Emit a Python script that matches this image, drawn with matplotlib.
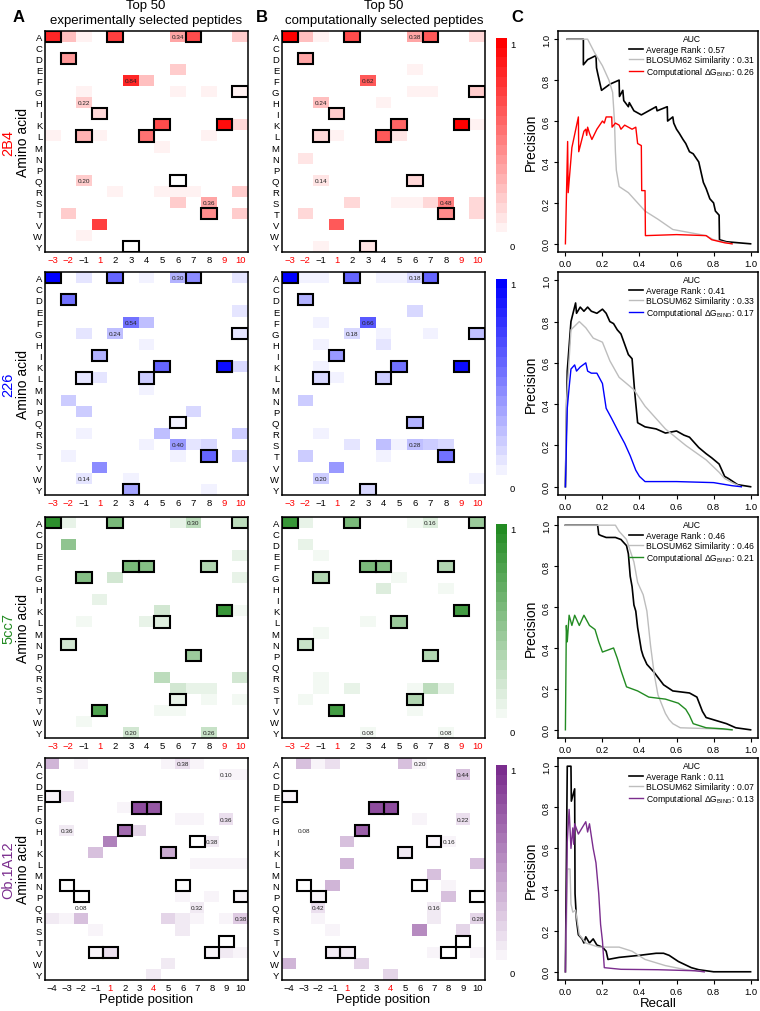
import matplotlib
matplotlib.use('Agg')
import matplotlib.pyplot as plt
import numpy as np
from matplotlib.colors import LinearSegmentedColormap
from matplotlib.patches import Rectangle

plt.rcParams['font.family'] = ['Liberation Sans', 'DejaVu Sans']
plt.rcParams['mathtext.fontset'] = 'custom'
plt.rcParams['mathtext.rm'] = 'Liberation Sans'

AMINO = list('ACDEFGHIKLMNPQRSTVWY')
POS_13 = [-3, -2, -1, 1, 2, 3, 4, 5, 6, 7, 8, 9, 10]
POS_14 = [-4, -3, -2, -1, 1, 2, 3, 4, 5, 6, 7, 8, 9, 10]

tcr_names = ['2B4', '226', '5cc7', 'Ob.1A12']
tcr_colors = ['#ff0000', '#0000ff', '#228b22', '#7b2d8e']
tcr_positions = [POS_13, POS_13, POS_13, POS_14]
red_ticks = [[-3, -2, 1, 9, 10], [-3, -2, 1, 9, 10], [-3, -2, 1, 9, 10], [1, 4]]

# native peptide residues (boxed cells)
boxes_mcc = [('A', -3), ('A', 2), ('A', 7), ('D', -2), ('G', 10), ('I', 1), ('K', 5),
             ('K', 9), ('L', -1), ('L', 4), ('Q', 6), ('T', 8), ('Y', 3)]
boxes_5cc7 = [('A', -3), ('A', 2), ('A', 10), ('F', 3), ('F', 4), ('F', 8), ('G', -1),
              ('K', 9), ('L', 5), ('N', -2), ('P', 7), ('T', 6), ('V', 1)]
boxes_ob = [('E', -4), ('F', 3), ('F', 4), ('H', 2), ('I', 7), ('K', 5), ('N', -3),
            ('N', 6), ('P', -2), ('P', 10), ('T', 9), ('V', -1), ('V', 1), ('V', 8)]

# amino-acid frequencies per position (experimental / computational)
exp_2b4 = {
    'A': {-3: 0.85, -2: 0.25, -1: 0.05, 2: 0.75, 3: 0.04, 6: 0.34, 7: 0.7, 10: 0.2},
    'D': {-2: 0.4}, 'E': {4: 0.03, 6: 0.2, 10: 0.03}, 'F': {3: 0.84, 4: 0.25},
    'G': {-1: 0.08, 6: 0.05, 8: 0.05, 10: 0.05}, 'H': {-1: 0.22}, 'I': {1: 0.15, -1: 0.03},
    'K': {5: 0.7, 9: 0.95, 10: 0.15},
    'L': {-3: 0.05, -1: 0.3, 1: 0.08, 3: 0.03, 4: 0.55, 8: 0.07},
    'M': {4: 0.03, 5: 0.06}, 'N': {-2: 0.04}, 'P': {-1: 0.04},
    'Q': {-1: 0.2, 6: 0.02, 8: 0.03}, 'R': {2: 0.08, 5: 0.05, 6: 0.05, 7: 0.08, 10: 0.2},
    'S': {2: 0.03, 6: 0.2, 8: 0.36}, 'T': {-2: 0.2, 8: 0.45, 10: 0.2},
    'V': {1: 0.75, 10: 0.03}, 'W': {-1: 0.08}, 'Y': {3: 0.0},
}
comp_2b4 = {
    'A': {-3: 1.0, -2: 0.25, -1: 0.06, 2: 0.7, 3: 0.04, 6: 0.38, 7: 0.65, 10: 0.15},
    'C': {4: 0.04}, 'D': {-2: 0.35}, 'E': {4: 0.04, 6: 0.05}, 'F': {3: 0.62},
    'G': {3: 0.04, 6: 0.05, 7: 0.08, 10: 0.2}, 'H': {-1: 0.24, 4: 0.06}, 'I': {1: 0.2},
    'K': {5: 0.6, 9: 1.0, 10: 0.06}, 'L': {-1: 0.15, 1: 0.08, 4: 0.65, 5: 0.1},
    'M': {5: 0.04}, 'N': {-2: 0.1}, 'Q': {-1: 0.14, 6: 0.15}, 'R': {-1: 0.04, 4: 0.04},
    'S': {2: 0.15, 4: 0.04, 5: 0.06, 6: 0.08, 7: 0.15, 8: 0.48, 10: 0.15},
    'T': {-2: 0.15, 8: 0.45, 10: 0.15}, 'V': {1: 0.65}, 'W': {-1: 0.04},
    'Y': {-1: 0.05, 3: 0.12},
}
exp_226 = {
    'A': {-3: 1.0, -2: 0.04, -1: 0.1, 2: 0.6, 4: 0.06, 6: 0.3, 7: 0.45, 10: 0.1},
    'C': {6: 0.03, 7: 0.03}, 'D': {-2: 0.55, -1: 0.03}, 'E': {6: 0.02, 10: 0.1},
    'F': {-1: 0.02, 3: 0.54, 4: 0.25}, 'G': {-1: 0.1, 2: 0.24, 7: 0.03, 8: 0.03, 10: 0.12},
    'H': {-1: 0.03, 4: 0.05}, 'I': {1: 0.3}, 'K': {-1: 0.03, 5: 0.6, 9: 0.95, 10: 0.15},
    'L': {-1: 0.1, 1: 0.1, 4: 0.2}, 'M': {4: 0.06}, 'N': {-2: 0.2, 8: 0.02},
    'P': {-1: 0.2, 7: 0.15}, 'Q': {4: 0.02, 5: 0.03, 6: 0.05}, 'R': {-1: 0.08, 5: 0.25, 10: 0.2},
    'S': {3: 0.03, 4: 0.06, 6: 0.4, 7: 0.1, 8: 0.15}, 'T': {-2: 0.06, 6: 0.08, 8: 0.6, 10: 0.15},
    'V': {1: 0.45, 4: 0.04, 6: 0.03, 7: 0.03}, 'W': {-1: 0.14, 3: 0.08}, 'Y': {3: 0.35, 8: 0.08},
}
comp_226 = {
    'A': {-3: 1.0, -2: 0.06, -1: 0.06, 2: 0.6, 4: 0.08, 5: 0.08, 6: 0.18, 7: 0.6},
    'C': {5: 0.03}, 'D': {-2: 0.3}, 'E': {6: 0.15, 10: 0.04}, 'F': {-1: 0.08, 3: 0.66},
    'G': {2: 0.18, 4: 0.06, 5: 0.04, 7: 0.06, 10: 0.25}, 'H': {-1: 0.06, 3: 0.03, 4: 0.1},
    'I': {1: 0.4}, 'K': {-1: 0.06, 5: 0.55, 9: 0.95}, 'L': {-1: 0.15, 1: 0.05, 4: 0.2, 5: 0.04},
    'M': {10: 0.03}, 'N': {-2: 0.2}, 'Q': {5: 0.03, 6: 0.3}, 'R': {-1: 0.08},
    'S': {2: 0.1, 4: 0.25, 5: 0.06, 6: 0.28, 7: 0.2, 8: 0.15}, 'T': {-2: 0.2, 4: 0.06, 8: 0.55},
    'V': {1: 0.4}, 'W': {-1: 0.2, 10: 0.08}, 'Y': {3: 0.15},
}
exp_5cc7 = {
    'A': {-3: 0.95, -2: 0.1, 2: 0.6, 5: 0.03, 6: 0.1, 7: 0.3, 10: 0.3},
    'D': {-2: 0.5}, 'E': {6: 0.03, 10: 0.1}, 'F': {3: 0.6, 4: 0.55, 8: 0.35},
    'G': {-1: 0.55, 2: 0.2, 6: 0.02, 10: 0.1}, 'H': {5: 0.02}, 'I': {1: 0.1},
    'K': {5: 0.2, 9: 0.9, 10: 0.06}, 'L': {-1: 0.05, 1: 0.04, 4: 0.1, 5: 0.15, 6: 0.03},
    'M': {4: 0.02}, 'N': {-2: 0.2}, 'P': {4: 0.02, 7: 0.45}, 'Q': {-1: 0.03, 6: 0.03},
    'R': {5: 0.3, 10: 0.2}, 'S': {6: 0.2, 7: 0.1, 8: 0.12}, 'T': {6: 0.12, 8: 0.08, 10: 0.06},
    'V': {1: 0.8, 5: 0.08, 6: 0.08}, 'W': {-1: 0.06}, 'Y': {3: 0.2, 8: 0.26},
}
comp_5cc7 = {
    'A': {-3: 0.9, -2: 0.1, 2: 0.6, 6: 0.06, 7: 0.16, 10: 0.45},
    'C': {-1: 0.04}, 'D': {-3: 0.02, -2: 0.12}, 'E': {-1: 0.05}, 'F': {3: 0.6, 4: 0.55, 8: 0.35},
    'G': {-1: 0.35, 2: 0.04, 5: 0.05}, 'H': {3: 0.04, 4: 0.15, 8: 0.08}, 'K': {9: 0.85},
    'L': {3: 0.05, 5: 0.45}, 'M': {-1: 0.06}, 'N': {-2: 0.25, 6: 0.03}, 'P': {5: 0.04, 7: 0.35},
    'Q': {5: 0.03}, 'R': {-1: 0.05}, 'S': {-1: 0.06, 2: 0.1, 5: 0.04, 6: 0.08, 7: 0.3, 8: 0.1},
    'T': {-2: 0.08, 6: 0.35}, 'V': {1: 0.85, 6: 0.06}, 'Y': {3: 0.08, 8: 0.08},
}
exp_ob = {
    'A': {-4: 0.35, -3: 0.02, -2: 0.05, -1: 0.03, 5: 0.05, 6: 0.15, 7: 0.05},
    'C': {-1: 0.02, 9: 0.08, 10: 0.05}, 'D': {5: 0.02},
    'E': {-4: 0.05, -3: 0.15, 9: 0.03, 10: 0.03}, 'F': {1: 0.03, 2: 0.08, 3: 0.85, 4: 0.8, 10: 0.03},
    'G': {-4: 0.04, -3: 0.04, -2: 0.04, -1: 0.03, 6: 0.06, 7: 0.06, 9: 0.15},
    'H': {-3: 0.12, 2: 0.7, 3: 0.2}, 'I': {-1: 0.03, 1: 0.6, 7: 0.04, 8: 0.1},
    'K': {-1: 0.3, 5: 0.4}, 'L': {1: 0.04, 2: 0.04, 3: 0.03, 7: 0.07, 8: 0.07, 9: 0.07, 10: 0.07},
    'M': {6: 0.02}, 'N': {-3: 0.03, -2: 0.04, -1: 0.04, 6: 0.03},
    'P': {-2: 0.03, 6: 0.06, 8: 0.08, 10: 0.05}, 'Q': {-2: 0.04, 7: 0.12},
    'R': {-4: 0.1, -3: 0.08, -2: 0.3, 5: 0.2, 6: 0.12, 7: 0.05, 9: 0.06, 10: 0.25},
    'S': {-1: 0.08, 5: 0.04, 6: 0.1}, 'T': {9: 0.03},
    'V': {-1: 0.05, 1: 0.15, 7: 0.03, 8: 0.05, 9: 0.12, 10: 0.08}, 'W': {5: 0.12}, 'Y': {4: 0.1},
}
comp_ob = {
    'A': {-4: 0.04, -3: 0.3, -2: 0.05, -1: 0.15, 5: 0.3, 6: 0.06},
    'C': {9: 0.3, 10: 0.04}, 'D': {5: 0.04}, 'E': {-4: 0.05, -3: 0.04},
    'F': {-2: 0.04, 3: 0.85, 4: 0.85}, 'G': {3: 0.04, 6: 0.05, 9: 0.15},
    'H': {-3: 0.04, -2: 0.04, 2: 0.75, 5: 0.04}, 'I': {1: 0.3, 7: 0.05, 8: 0.05},
    'K': {-2: 0.04, 5: 0.12}, 'L': {1: 0.35, 10: 0.3}, 'M': {-4: 0.03, 7: 0.3},
    'N': {-3: 0.04, -1: 0.35, 6: 0.04, 8: 0.08}, 'P': {-2: 0.05, 8: 0.3},
    'Q': {-2: 0.15, 7: 0.12}, 'R': {-3: 0.04, -2: 0.08, 7: 0.1, 10: 0.2},
    'S': {-1: 0.06, 6: 0.55, 9: 0.2}, 'T': {-3: 0.03},
    'V': {-1: 0.12, 1: 0.12, 7: 0.08, 10: 0.05}, 'W': {-4: 0.35, 2: 0.2, 10: 0.03},
    'Y': {2: 0.03, 4: 0.2},
}

# numbers printed inside cells
lab_exp_2b4 = [('A', 6, '0.34'), ('F', 3, '0.84'), ('H', -1, '0.22'), ('Q', -1, '0.20'), ('S', 8, '0.36')]
lab_comp_2b4 = [('A', 6, '0.38'), ('F', 3, '0.62'), ('H', -1, '0.24'), ('Q', -1, '0.14'), ('S', 8, '0.48')]
lab_exp_226 = [('A', 6, '0.30'), ('F', 3, '0.54'), ('G', 2, '0.24'), ('S', 6, '0.40'), ('W', -1, '0.14')]
lab_comp_226 = [('A', 6, '0.18'), ('F', 3, '0.66'), ('G', 2, '0.18'), ('S', 6, '0.28'), ('W', -1, '0.20')]
lab_exp_5cc7 = [('A', 7, '0.30'), ('Y', 3, '0.20'), ('Y', 8, '0.26')]
lab_comp_5cc7 = [('A', 7, '0.16'), ('Y', 3, '0.08'), ('Y', 8, '0.08')]
lab_exp_ob = [('A', 6, '0.38'), ('C', 9, '0.10'), ('G', 9, '0.36'), ('H', -3, '0.36'),
              ('I', 8, '0.38'), ('Q', -2, '0.08'), ('Q', 7, '0.32'), ('R', 10, '0.38')]
lab_comp_ob = [('A', 6, '0.20'), ('C', 9, '0.44'), ('G', 9, '0.22'), ('H', -3, '0.08'),
               ('I', 8, '0.16'), ('Q', -2, '0.42'), ('Q', 7, '0.16'), ('R', 10, '0.28')]

# precision-recall curves, (recall, precision)
pr_2b4_rank = [(0.01, 1.0), (0.097, 1.0), (0.097, 0.875), (0.12, 0.90), (0.165, 0.92), (0.168, 0.86),
               (0.175, 0.83), (0.185, 0.79), (0.195, 0.75), (0.24, 0.78), (0.29, 0.80), (0.292, 0.72),
               (0.31, 0.75), (0.315, 0.70), (0.34, 0.67), (0.345, 0.69), (0.37, 0.65), (0.41, 0.63),
               (0.45, 0.65), (0.49, 0.67), (0.495, 0.65), (0.55, 0.67), (0.552, 0.60), (0.58, 0.62),
               (0.585, 0.59), (0.60, 0.56), (0.615, 0.54), (0.635, 0.51), (0.65, 0.49), (0.67, 0.45),
               (0.69, 0.44), (0.72, 0.40), (0.73, 0.36), (0.745, 0.30), (0.76, 0.27), (0.78, 0.22),
               (0.80, 0.20), (0.81, 0.16), (0.83, 0.14), (0.832, 0.02), (0.87, 0.01), (1.0, 0.0)]
pr_2b4_blosum = [(0.01, 1.0), (0.12, 1.0), (0.16, 0.93), (0.20, 0.87), (0.235, 0.80), (0.255, 0.74),
                 (0.265, 0.60), (0.27, 0.45), (0.275, 0.36), (0.29, 0.28), (0.34, 0.25), (0.40, 0.19),
                 (0.43, 0.16), (0.50, 0.12), (0.58, 0.07), (0.70, 0.05), (0.76, 0.04), (0.80, 0.02),
                 (0.85, 0.01), (0.90, 0.0)]
pr_2b4_comp = [(0.0, 0.0), (0.012, 0.5), (0.015, 0.25), (0.035, 0.47), (0.07, 0.62), (0.072, 0.45),
               (0.10, 0.55), (0.11, 0.56), (0.115, 0.53), (0.12, 0.57), (0.13, 0.54), (0.143, 0.51),
               (0.17, 0.56), (0.20, 0.60), (0.21, 0.59), (0.22, 0.62), (0.25, 0.62), (0.252, 0.57),
               (0.27, 0.59), (0.29, 0.58), (0.30, 0.56), (0.32, 0.58), (0.36, 0.56), (0.38, 0.57),
               (0.39, 0.49), (0.41, 0.48), (0.412, 0.26), (0.43, 0.26), (0.432, 0.04), (0.60, 0.045),
               (0.76, 0.04), (0.79, 0.02), (0.86, 0.005), (0.90, 0.0)]
pr_226_rank = [(0.0, 0.0), (0.005, 0.3), (0.01, 0.56), (0.03, 0.80), (0.055, 0.89), (0.06, 0.84),
               (0.08, 0.87), (0.10, 0.85), (0.12, 0.87), (0.14, 0.85), (0.17, 0.84), (0.20, 0.86),
               (0.22, 0.84), (0.24, 0.80), (0.26, 0.79), (0.28, 0.76), (0.30, 0.74), (0.32, 0.69),
               (0.34, 0.64), (0.36, 0.62), (0.375, 0.45), (0.39, 0.31), (0.43, 0.29), (0.49, 0.28),
               (0.54, 0.26), (0.60, 0.27), (0.64, 0.25), (0.67, 0.24), (0.72, 0.19), (0.76, 0.16),
               (0.79, 0.14), (0.83, 0.11), (0.86, 0.05), (0.88, 0.04), (0.93, 0.01), (1.0, 0.0)]
pr_226_blosum = [(0.0, 0.0), (0.005, 0.4), (0.03, 0.76), (0.075, 0.80), (0.11, 0.77), (0.15, 0.72),
                 (0.20, 0.70), (0.24, 0.61), (0.29, 0.53), (0.37, 0.47), (0.43, 0.39), (0.54, 0.28),
                 (0.65, 0.20), (0.76, 0.13), (0.83, 0.07), (0.86, 0.04), (0.90, 0.02), (0.95, 0.0)]
pr_226_comp = [(0.0, 0.0), (0.01, 0.38), (0.02, 0.48), (0.03, 0.57), (0.05, 0.59), (0.06, 0.56),
               (0.08, 0.58), (0.11, 0.60), (0.12, 0.56), (0.14, 0.55), (0.17, 0.55), (0.20, 0.50),
               (0.22, 0.38), (0.25, 0.33), (0.29, 0.26), (0.32, 0.21), (0.35, 0.15), (0.38, 0.08),
               (0.40, 0.05), (0.43, 0.025), (0.60, 0.025), (0.80, 0.02), (0.90, 0.005), (0.95, 0.0)]
pr_5cc7_rank = [(0.0, 1.0), (0.174, 1.0), (0.18, 0.955), (0.19, 0.95), (0.22, 0.94), (0.27, 0.94),
                (0.30, 0.93), (0.33, 0.90), (0.34, 0.86), (0.35, 0.75), (0.36, 0.70), (0.37, 0.61),
                (0.38, 0.58), (0.39, 0.50), (0.41, 0.39), (0.42, 0.36), (0.44, 0.32), (0.48, 0.28),
                (0.53, 0.22), (0.58, 0.19), (0.67, 0.18), (0.71, 0.16), (0.74, 0.09), (0.76, 0.06),
                (0.87, 0.03), (0.92, 0.01), (1.0, 0.0)]
pr_5cc7_blosum = [(0.0, 1.0), (0.27, 1.0), (0.29, 0.97), (0.33, 0.93), (0.37, 0.82), (0.39, 0.72),
                  (0.42, 0.66), (0.44, 0.58), (0.46, 0.41), (0.48, 0.27), (0.50, 0.17), (0.54, 0.08),
                  (0.56, 0.05), (0.58, 0.03), (0.62, 0.01), (0.80, 0.005), (0.90, 0.0)]
pr_5cc7_comp = [(0.0, 0.0), (0.005, 0.51), (0.01, 0.43), (0.02, 0.56), (0.035, 0.51), (0.05, 0.56),
                (0.075, 0.51), (0.10, 0.56), (0.13, 0.51), (0.16, 0.49), (0.18, 0.43), (0.20, 0.38),
                (0.23, 0.39), (0.26, 0.40), (0.28, 0.35), (0.30, 0.29), (0.33, 0.21), (0.39, 0.19),
                (0.45, 0.16), (0.54, 0.15), (0.61, 0.13), (0.65, 0.10), (0.67, 0.07), (0.69, 0.03),
                (0.76, 0.01), (0.85, 0.005), (0.90, 0.0)]
pr_ob_rank = [(0.0, 0.0), (0.01, 1.0), (0.03, 1.0), (0.032, 0.83), (0.05, 0.89), (0.052, 0.38),
              (0.06, 0.25), (0.07, 0.18), (0.09, 0.16), (0.10, 0.14), (0.11, 0.17), (0.13, 0.14),
              (0.15, 0.16), (0.17, 0.13), (0.20, 0.12), (0.22, 0.10), (0.23, 0.06), (0.29, 0.07),
              (0.40, 0.08), (0.49, 0.09), (0.53, 0.09), (0.56, 0.08), (0.61, 0.05), (0.68, 0.02),
              (0.72, 0.01), (0.80, 0.0), (1.0, 0.0)]
pr_ob_blosum = [(0.0, 0.0), (0.012, 0.5), (0.025, 0.5), (0.03, 0.33), (0.04, 0.29), (0.055, 0.30),
                (0.075, 0.18), (0.11, 0.14), (0.18, 0.12), (0.29, 0.12), (0.36, 0.10), (0.43, 0.06),
                (0.54, 0.03), (0.65, 0.01), (0.75, 0.0)]
pr_ob_comp = [(0.0, 0.0), (0.01, 0.63), (0.02, 0.79), (0.03, 0.60), (0.04, 0.70), (0.045, 0.62),
              (0.05, 0.72), (0.07, 0.67), (0.09, 0.70), (0.11, 0.73), (0.12, 0.68), (0.13, 0.72),
              (0.15, 0.60), (0.165, 0.53), (0.18, 0.38), (0.19, 0.23), (0.20, 0.15), (0.21, 0.02),
              (0.30, 0.012), (0.50, 0.01), (0.70, 0.005), (0.75, 0.0)]

auc_rank = [0.57, 0.41, 0.46, 0.11]
auc_blosum = [0.31, 0.33, 0.46, 0.07]
auc_comp = [0.26, 0.17, 0.21, 0.13]

exp_cells = [exp_2b4, exp_226, exp_5cc7, exp_ob]
comp_cells = [comp_2b4, comp_226, comp_5cc7, comp_ob]
exp_labels = [lab_exp_2b4, lab_exp_226, lab_exp_5cc7, lab_exp_ob]
comp_labels = [lab_comp_2b4, lab_comp_226, lab_comp_5cc7, lab_comp_ob]
all_boxes = [boxes_mcc, boxes_mcc, boxes_5cc7, boxes_ob]
pr_rank = [pr_2b4_rank, pr_226_rank, pr_5cc7_rank, pr_ob_rank]
pr_blosum = [pr_2b4_blosum, pr_226_blosum, pr_5cc7_blosum, pr_ob_blosum]
pr_comp = [pr_2b4_comp, pr_226_comp, pr_5cc7_comp, pr_ob_comp]

W, H = 760, 1012
fig = plt.figure(figsize=(W / 100, H / 100), dpi=100)


def px_axes(x0, y0, x1, y1):
    return fig.add_axes([x0 / W, 1 - y1 / H, (x1 - x0) / W, (y1 - y0) / H])


def draw_heat(ax, cells, positions, boxes, labels, cmap, reds, last):
    mat = np.zeros((len(AMINO), len(positions)))
    for aa, row in cells.items():
        for p, v in row.items():
            mat[AMINO.index(aa), positions.index(p)] = v
    ax.imshow(mat, cmap=cmap, vmin=0, vmax=1, aspect='auto', interpolation='nearest')
    for aa, p in boxes:
        ax.add_patch(Rectangle((positions.index(p) - 0.5, AMINO.index(aa) - 0.5), 1, 1,
                               fill=False, ec='black', lw=1.5))
    for aa, p, txt in labels:
        ax.text(positions.index(p), AMINO.index(aa), txt, ha='center', va='center', fontsize=4.6,
                color='#222222')
    ax.set_yticks(range(len(AMINO)))
    ax.set_yticklabels(AMINO, fontsize=6.8)
    ax.set_xticks(range(len(positions)))
    ax.set_xticklabels([('\u2212%d' % -p) if p < 0 else str(p) for p in positions], fontsize=6.8)
    for lab, p in zip(ax.get_xticklabels(), positions):
        if p in reds:
            lab.set_color('#ff0000')
    ax.tick_params(length=0, pad=2)
    for s in ax.spines.values():
        s.set_linewidth(1.1)
    if last:
        ax.set_xlabel('Peptide position', fontsize=9.5, labelpad=1)


rows = [(32, 253), (273, 496), (518, 739), (759, 981)]

for i in range(4):
    top, bot = rows[i]
    col = tcr_colors[i]
    cmap = LinearSegmentedColormap.from_list('c%d' % i, ['#ffffff', col], N=21)
    last = i == 3

    axa = px_axes(45, top, 248, bot)
    draw_heat(axa, exp_cells[i], tcr_positions[i], all_boxes[i], exp_labels[i], cmap, red_ticks[i], last)
    axa.set_ylabel('Amino acid', fontsize=10, labelpad=2)
    fig.text(8 / W, 1 - (top + bot) / 2 / H, tcr_names[i], color=col, fontsize=10.5,
             rotation=90, ha='center', va='center')

    axb = px_axes(282, top, 485, bot)
    draw_heat(axb, comp_cells[i], tcr_positions[i], all_boxes[i], comp_labels[i], cmap, red_ticks[i], last)

    # colour bar
    axc = px_axes(496, top + 7, 507, bot - 10)
    axc.imshow(np.linspace(0, 1, 21)[::-1].reshape(-1, 1), cmap=cmap, vmin=0, vmax=1,
               aspect='auto', interpolation='nearest')
    axc.set_axis_off()
    fig.text(510 / W, 1 - (top + 13) / H, '1', fontsize=6.8, ha='left', va='center')
    fig.text(510 / W, 1 - (bot - 6) / H, '0', fontsize=6.8, ha='left', va='center')

    # precision-recall
    axp = px_axes(558, top, 758, bot)
    for pts, c, lw, lab in [(pr_rank[i], 'black', 1.2, 'Average Rank : %.2f' % auc_rank[i]),
                            (pr_blosum[i], '#bdbdbd', 1.0, 'BLOSUM62 Similarity : %.2f' % auc_blosum[i]),
                            (pr_comp[i], col, 1.0,
                             'Computational \u0394G$_{\\mathrm{BIND}}$: %.2f' % auc_comp[i])]:
        xs, ys = zip(*pts)
        axp.plot(xs, ys, color=c, lw=lw, label=lab)
    axp.set_xlim(-0.04, 1.04)
    axp.set_ylim(-0.04, 1.04)
    axp.set_xticks(np.arange(0, 1.01, 0.2))
    axp.set_yticks(np.arange(0, 1.01, 0.2))
    axp.set_xticklabels(['%.1f' % v for v in np.arange(0, 1.01, 0.2)], fontsize=6.8)
    axp.set_yticklabels(['%.1f' % v for v in np.arange(0, 1.01, 0.2)], fontsize=6.8,
                        rotation=90, va='center')
    axp.tick_params(length=3, width=0.8, pad=2)
    for s in axp.spines.values():
        s.set_linewidth(1.1)
    axp.set_ylabel('Precision', fontsize=10, labelpad=3)
    if last:
        axp.set_xlabel('Recall', fontsize=9.5, labelpad=1)
    axp.legend(title='AUC', fontsize=6.2, title_fontsize=6.2, frameon=False, loc='upper right',
               handlelength=1.6, handletextpad=0.4, labelspacing=0.15, borderpad=0.3,
               borderaxespad=0.1)

fig.text(146 / W, 1 - 6 / H, 'Top 50', fontsize=9.5, ha='center', va='center')
fig.text(146 / W, 1 - 21 / H, 'experimentally selected peptides', fontsize=9.5, ha='center', va='center')
fig.text(384 / W, 1 - 6 / H, 'Top 50', fontsize=9.5, ha='center', va='center')
fig.text(384 / W, 1 - 21 / H, 'computationally selected peptides', fontsize=9.5, ha='center', va='center')
fig.text(19 / W, 1 - 18 / H, 'A', fontsize=12, fontweight='bold', ha='center', va='center')
fig.text(262 / W, 1 - 18 / H, 'B', fontsize=12, fontweight='bold', ha='center', va='center')
fig.text(517 / W, 1 - 18 / H, 'C', fontsize=12, fontweight='bold', ha='center', va='center')

fig.savefig('out.png', dpi=100)
